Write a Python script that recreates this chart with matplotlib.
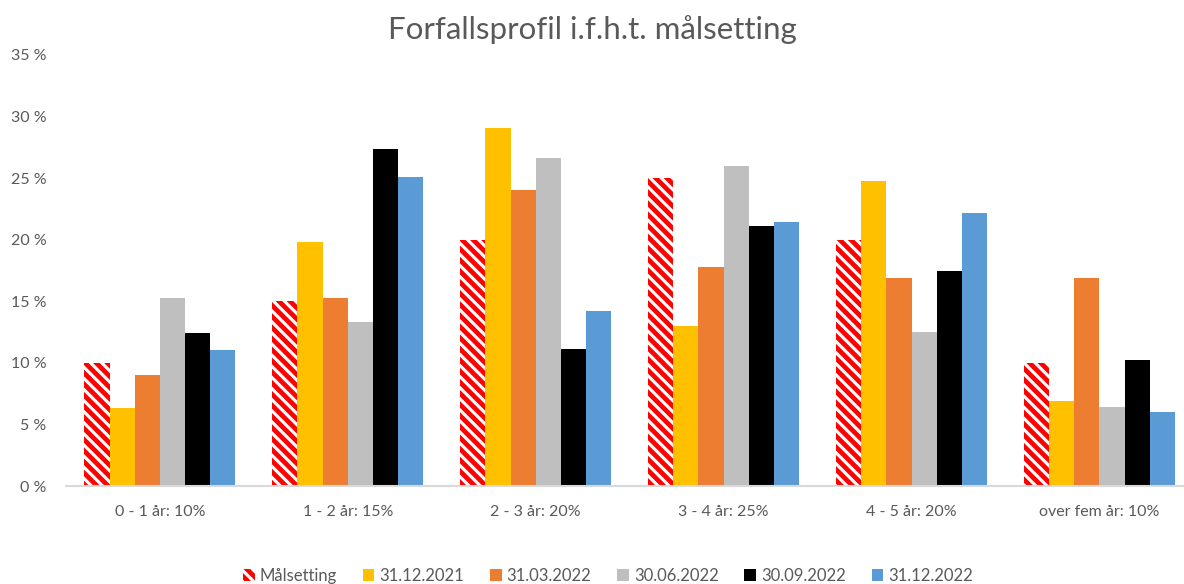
import numpy as np
import matplotlib.pyplot as plt

# Data (percent)
categories = ['0 - 1 år: 10%', '1 - 2 år: 15%', '2 - 3 år: 20%',
              '3 - 4 år: 25%', '4 - 5 år: 20%', 'over fem år: 10%']
series_names = ['Målsetting', '31.12.2021', '31.03.2022', '30.06.2022', '30.09.2022', '31.12.2022']
malsetting = [10, 15, 20, 25, 20, 10]
d_2021_12 = [6.3, 19.8, 29.1, 13.0, 24.8, 6.9]
d_2022_03 = [9.0, 15.3, 24.0, 17.8, 16.9, 16.9]
d_2022_06 = [15.3, 13.3, 26.6, 26.0, 12.5, 6.4]
d_2022_09 = [12.4, 27.4, 11.1, 21.1, 17.5, 10.2]
d_2022_12 = [11.05, 25.1, 14.2, 21.4, 22.2, 6.0]

values = [malsetting, d_2021_12, d_2022_03, d_2022_06, d_2022_09, d_2022_12]
colors = ['white', '#FFC000', '#ED7D31', '#BFBFBF', '#000000', '#5B9BD5']

plt.rcParams['font.family'] = ['Lato', 'DejaVu Sans']
plt.rcParams['hatch.linewidth'] = 3.4

fig = plt.figure(figsize=(11.84, 5.84), dpi=100)
ax = fig.add_axes([66 / 1184, 1 - 486 / 584, 1 - 66 / 1184, (486 - 55) / 584])

x = np.arange(len(categories))
w = 0.134
for i, (name, vals, c) in enumerate(zip(series_names, values, colors)):
    pos = x + (i - 2.5) * w
    if i == 0:
        ax.bar(pos, vals, w, color='white', edgecolor='#FF0000', hatch='\\\\\\',
               linewidth=0, label=name)
    else:
        ax.bar(pos, vals, w, color=c, linewidth=0, label=name)

ax.set_ylim(0, 35)
ax.set_xlim(-0.5, 5.45)
ax.set_yticks(range(0, 36, 5))
ax.set_yticklabels([f'{v} %' for v in range(0, 36, 5)])
ax.set_xticks(x)
ax.set_xticklabels(categories)
ax.tick_params(axis='both', length=0, labelsize=11.5, colors='#595959')
ax.tick_params(axis='x', pad=14)
ax.tick_params(axis='y', pad=14)
for s in ['top', 'right', 'left']:
    ax.spines[s].set_visible(False)
ax.spines['bottom'].set_color('#D9D9D9')
ax.spines['bottom'].set_linewidth(1.5)

fig.text(592 / 1184, 1 - 30 / 584, 'Forfallsprofil i.f.h.t. målsetting',
         ha='center', va='center', fontsize=22.5, color='#595959')

fig.legend(loc='center', bbox_to_anchor=(608 / 1184, 1 - 576 / 584), ncol=6,
           frameon=False, fontsize=12, handlelength=0.7, handleheight=0.7,
           handletextpad=0.3, columnspacing=1.55, labelcolor='#595959')

fig.savefig('out.png', dpi=100)
